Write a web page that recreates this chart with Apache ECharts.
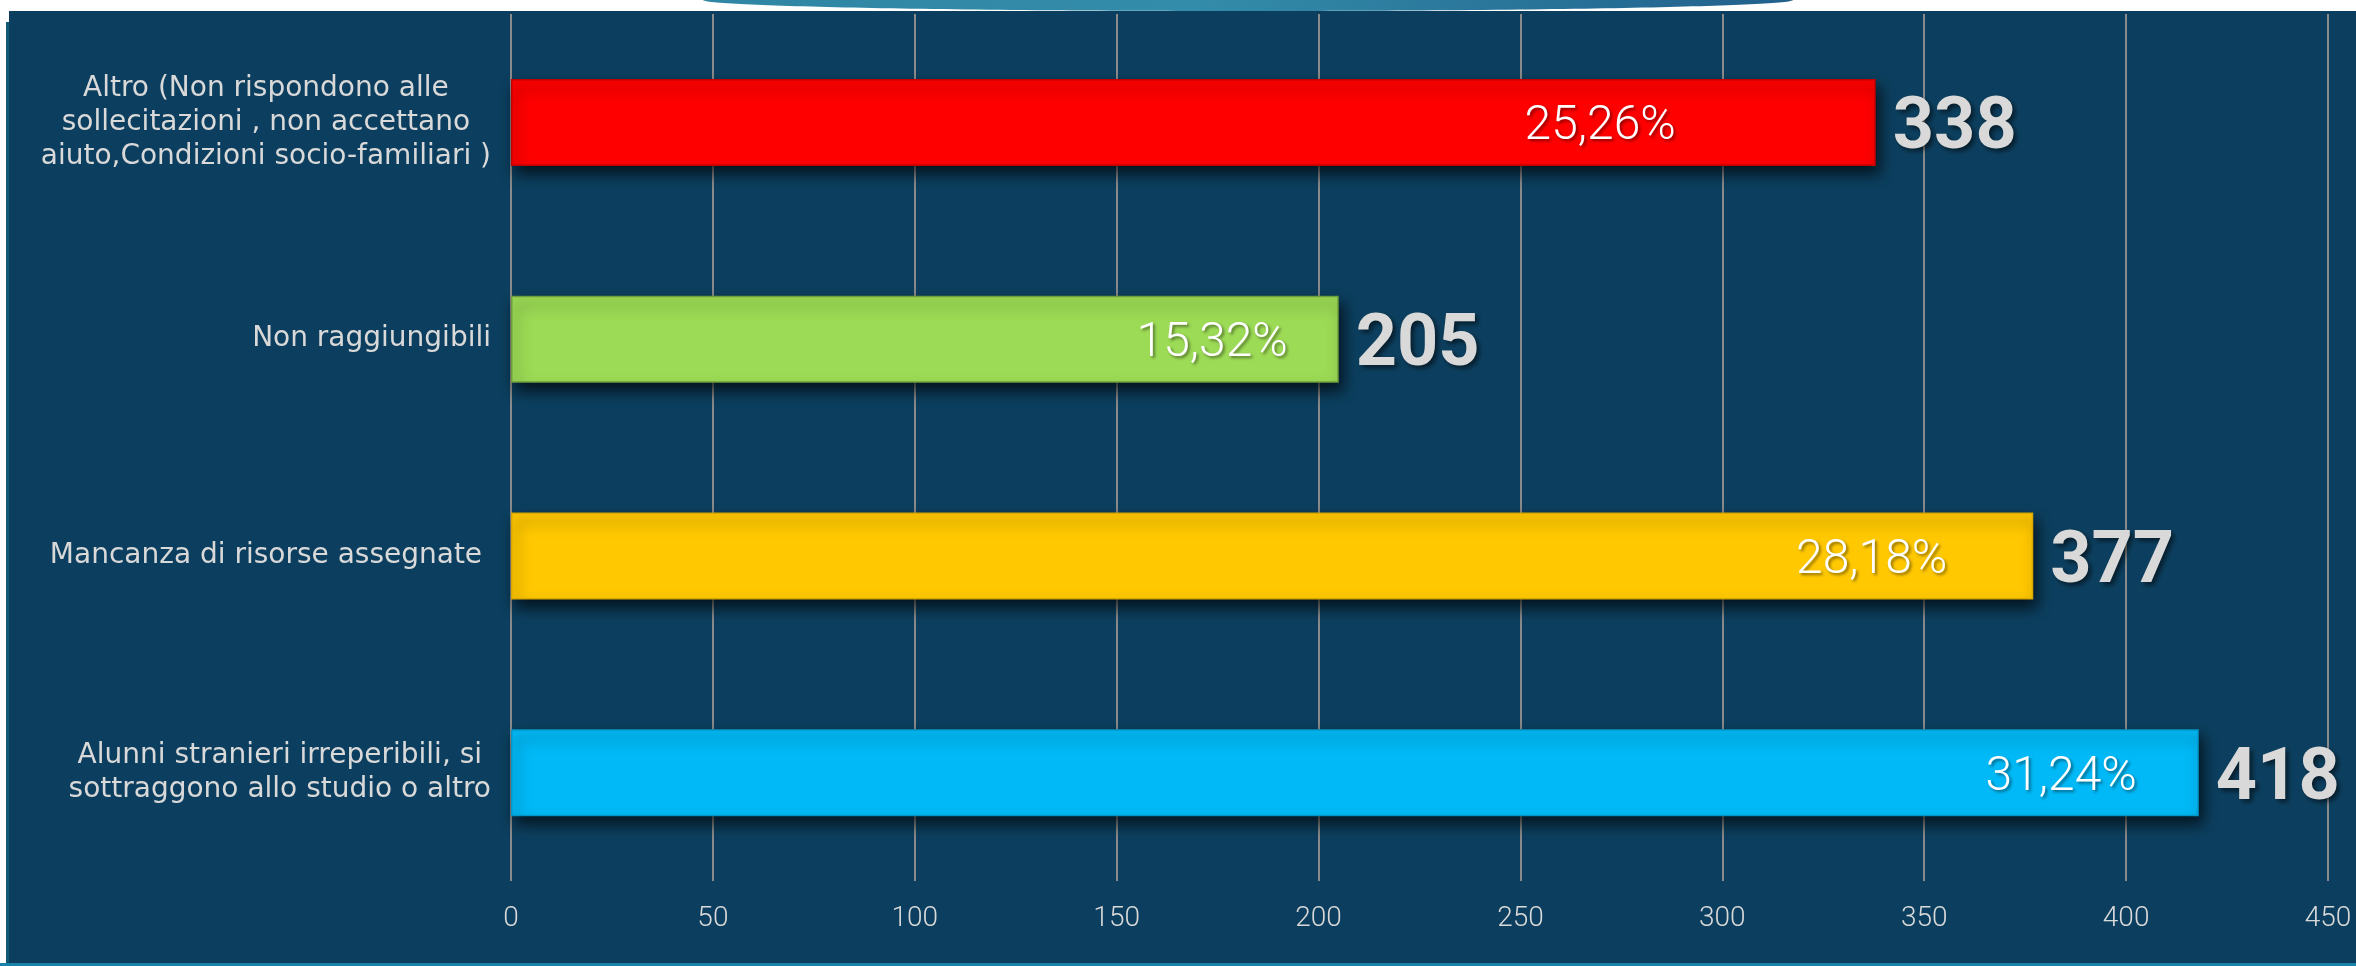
<!DOCTYPE html>
<html>
<head>
<meta charset="utf-8">
<title>Motivi</title>
<script src="https://cdn.jsdelivr.net/npm/echarts@6/dist/echarts.min.js"></script>
<style>
  html, body { margin: 0; padding: 0; background: #fff; }
  #chart { width: 2356px; height: 966px; }
</style>
</head>
<body>
<div id="chart"></div>
<script>
// categorie, dall'alto verso il basso
const categories = [
  'Altro (Non rispondono alle\nsollecitazioni , non accettano\naiuto,Condizioni socio-familiari )',
  'Non raggiungibili',
  'Mancanza di risorse assegnate ',
  'Alunni stranieri irreperibili, si\nsottraggono allo studio o altro'
];
const values = [338, 205, 377, 418];
const percents = ['25,26%', '15,32%', '28,18%', '31,24%'];
const axisMin = 0;
const axisMax = 450;
const axisStep = 50;

// stile
const barColors = ['#ff0000', '#9cdb55', '#ffc800', '#00b9f6'];
const barBorders = ['#c00000', '#6f9e3c', '#d9a800', '#0096c8'];
const pctGap = [200, 51, 86, 62];

const FONT = 'Roboto, "DejaVu Sans", sans-serif';
const LABEL_FONT = '"DejaVu Sans", sans-serif';

let myChart = echarts.init(document.getElementById('chart'));

let option = {
  backgroundColor: '#0c3f5f',
  animation: false,
  graphic: [
    // bordo bianco in alto e a sinistra
    { type: 'rect', shape: { x: 0, y: 0, width: 2356, height: 11 }, style: { fill: '#fff' } },
    { type: 'rect', shape: { x: 0, y: 0, width: 6, height: 966 }, style: { fill: '#fff' } },
    { type: 'rect', shape: { x: 6, y: 0, width: 3, height: 22 }, style: { fill: '#fff' } },
    { type: 'rect', shape: { x: 6, y: 22, width: 3, height: 944 }, style: { fill: '#0f5a78' } },
    { type: 'rect', shape: { x: 0, y: 963, width: 2356, height: 3 }, style: { fill: '#1a82aa' } },
    {
      type: 'ellipse',
      shape: { cx: 1248, cy: 0, rx: 545, ry: 11 },
      style: {
        fill: {
          type: 'linear', x: 0, y: 0, x2: 1, y2: 0,
          colorStops: [
            { offset: 0, color: '#2f86a4' },
            { offset: 0.45, color: '#338ca9' },
            { offset: 1, color: '#21608c' }
          ]
        }
      }
    }
  ],
  grid: {
    left: 511,
    right: 28,
    top: 14,
    bottom: 85,
    containLabel: false
  },
  xAxis: {
    type: 'value',
    min: axisMin,
    max: axisMax,
    interval: axisStep,
    axisLine: { show: false },
    axisTick: { show: false },
    splitLine: { show: true, lineStyle: { color: '#8a8a8a', width: 2 } },
    axisLabel: {
      color: '#d9d9d9',
      fontSize: 28,
      fontWeight: 300,
      fontFamily: FONT,
      margin: 24
    }
  },
  yAxis: {
    type: 'category',
    inverse: true,
    data: categories,
    axisLine: { show: false },
    axisTick: { show: false },
    splitLine: { show: false },
    axisLabel: {
      interval: 0,
      margin: 20,
      color: '#d9d9d9',
      fontSize: 28,
      fontFamily: LABEL_FONT,
      lineHeight: 34,
      formatter: function (v) {
        return v.split('\n').map(function (l) { return '{c|' + l + '}'; }).join('\n');
      },
      rich: {
        c: {
          align: 'center',
          color: '#d9d9d9',
          fontSize: 28,
          fontFamily: LABEL_FONT,
          lineHeight: 34
        }
      }
    }
  },
  series: [
    {
      name: 'percentuale',
      type: 'bar',
      barWidth: 87,
      data: values.map(function (v, i) {
        return {
          value: v,
          itemStyle: { color: barColors[i], borderColor: barBorders[i] },
          label: { distance: pctGap[i] }
        };
      }),
      itemStyle: {
        borderWidth: 1.5,
        shadowColor: 'rgba(0, 0, 0, 0.7)',
        shadowBlur: 14,
        shadowOffsetX: 4,
        shadowOffsetY: 8
      },
      label: {
        show: true,
        position: 'insideRight',
        offset: [0, 5],
        formatter: function (p) { return percents[p.dataIndex]; },
        color: '#ffffff',
        fontSize: 48,
        fontWeight: 300,
        fontFamily: FONT,
        textShadowColor: 'rgba(0, 0, 0, 0.45)',
        textShadowBlur: 3,
        textShadowOffsetX: 2,
        textShadowOffsetY: 2
      },
      z: 3
    },
    {
      name: 'valore',
      type: 'bar',
      barWidth: 87,
      barGap: '-100%',
      data: values,
      itemStyle: { color: 'rgba(0, 0, 0, 0)' },
      label: {
        show: true,
        position: 'right',
        distance: 17,
        offset: [0, 8],
        color: '#d9d9d9',
        fontSize: 72,
        fontWeight: 'bold',
        fontFamily: FONT,
        textShadowColor: 'rgba(0, 0, 0, 0.55)',
        textShadowBlur: 5,
        textShadowOffsetX: 3,
        textShadowOffsetY: 3
      },
      z: 4
    }
  ]
};

myChart.setOption(option, true);
window.addEventListener('resize', () => {
  myChart.resize();
});
</script>
</body>
</html>
